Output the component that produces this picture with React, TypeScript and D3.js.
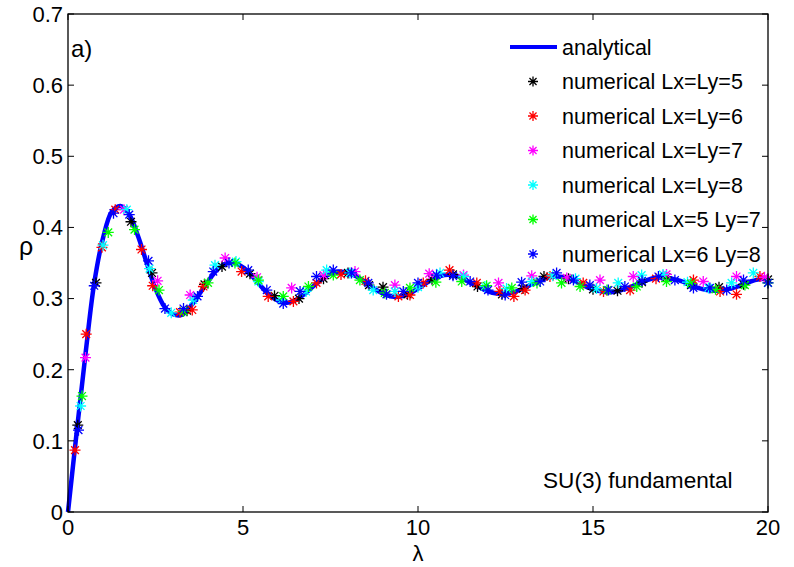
import * as d3 from "d3";

// analytical curve
const lambdaA = [0, 0.25, 0.5, 0.75, 1, 1.25, 1.5, 1.75, 2, 2.25, 2.5, 2.75, 3, 3.25, 3.5, 3.75, 4, 4.25, 4.5, 4.75,
  5, 5.25, 5.5, 5.75, 6, 6.25, 6.5, 6.75, 7, 7.25, 7.5, 7.75, 8, 8.25, 8.5, 8.75, 9, 9.25, 9.5, 9.75,
  10, 10.25, 10.5, 10.75, 11, 11.25, 11.5, 11.75, 12, 12.25, 12.5, 12.75, 13, 13.25, 13.5, 13.75, 14, 14.25, 14.5, 14.75,
  15, 15.25, 15.5, 15.75, 16, 16.25, 16.5, 16.75, 17, 17.25, 17.5, 17.75, 18, 18.25, 18.5, 18.75, 19, 19.25, 19.5, 19.75, 20];
const rhoA = [0, 0.113, 0.222, 0.322, 0.385, 0.422, 0.43, 0.418, 0.388, 0.35, 0.314, 0.289, 0.278, 0.277, 0.289, 0.306, 0.324, 0.34, 0.349, 0.35,
  0.344, 0.332, 0.318, 0.305, 0.297, 0.294, 0.298, 0.306, 0.317, 0.327, 0.335, 0.338, 0.336, 0.331, 0.322, 0.314, 0.307, 0.303, 0.303, 0.307,
  0.314, 0.322, 0.329, 0.333, 0.333, 0.329, 0.322, 0.316, 0.31, 0.307, 0.307, 0.309, 0.314, 0.32, 0.326, 0.33, 0.331, 0.329, 0.324, 0.318,
  0.313, 0.31, 0.309, 0.311, 0.315, 0.32, 0.325, 0.329, 0.33, 0.328, 0.325, 0.32, 0.315, 0.312, 0.311, 0.312, 0.315, 0.319, 0.324, 0.327, 0.328];

// numerical results [lambda, rho]
const lxly5 = [[0.28, 0.122], [0.8, 0.322], [1.8, 0.408], [2.4, 0.336], [3.4, 0.283], [3.9, 0.32], [4.4, 0.345], [5.2, 0.335],
  [5.9, 0.304], [6.6, 0.3], [7.3, 0.328], [8.0, 0.336], [8.6, 0.319], [9.0, 0.316], [9.7, 0.306], [10.4, 0.327], [11.0, 0.334],
  [11.7, 0.317], [12.4, 0.306], [13.0, 0.314], [13.6, 0.331], [14.3, 0.328], [15.0, 0.313], [15.7, 0.311], [16.4, 0.323],
  [17.1, 0.33], [17.8, 0.319], [18.6, 0.316], [19.3, 0.32], [20.0, 0.327]];
const lxly6 = [[0.2, 0.087], [0.52, 0.25], [0.97, 0.372], [1.35, 0.425], [2.1, 0.369], [2.42, 0.318], [3.2, 0.281], [3.55, 0.284],
  [3.87, 0.317], [4.96, 0.338], [5.72, 0.303], [6.44, 0.296], [7.1, 0.322], [7.8, 0.334], [8.5, 0.325], [9.44, 0.303], [9.77, 0.305],
  [10.15, 0.322], [10.9, 0.34], [11.68, 0.322], [12.34, 0.31], [12.74, 0.303], [13.06, 0.312], [13.77, 0.331], [14.72, 0.322],
  [15.3, 0.31], [16.06, 0.312], [16.8, 0.328], [17.87, 0.326], [18.63, 0.31], [19.1, 0.306], [19.77, 0.331]];
const lxly7 = [[0.5, 0.217], [1.6, 0.425], [2.56, 0.325], [3.49, 0.305], [4.49, 0.357], [5.4, 0.33], [6.39, 0.315], [7.3, 0.333],
  [8.2, 0.338], [9.34, 0.319], [10.32, 0.335], [11.3, 0.333], [12.3, 0.322], [13.25, 0.332], [14.25, 0.329], [15.2, 0.326],
  [16.15, 0.331], [17.1, 0.334], [18.15, 0.324], [19.1, 0.331], [19.9, 0.33]];
const lxly8 = [[0.36, 0.149], [1.0, 0.375], [1.68, 0.425], [2.33, 0.342], [2.95, 0.28], [3.58, 0.298], [4.2, 0.347], [4.8, 0.352],
  [5.44, 0.324], [6.1, 0.298], [6.8, 0.31], [7.39, 0.34], [8.05, 0.336], [8.72, 0.312], [9.34, 0.31], [10.0, 0.316], [10.63, 0.336],
  [11.3, 0.331], [11.91, 0.317], [12.53, 0.314], [13.25, 0.324], [13.85, 0.332], [14.5, 0.328], [15.1, 0.314], [15.72, 0.322],
  [16.39, 0.333], [17.0, 0.334], [17.7, 0.323], [18.3, 0.315], [18.96, 0.322], [19.58, 0.336]];
const lx5ly7 = [[0.4, 0.163], [1.15, 0.393], [1.9, 0.397], [2.6, 0.312], [3.3, 0.282], [4.0, 0.322], [4.77, 0.35], [5.44, 0.326],
  [6.15, 0.303], [6.87, 0.317], [7.58, 0.333], [8.34, 0.326], [9.05, 0.308], [9.77, 0.315], [10.51, 0.323], [11.25, 0.324],
  [11.96, 0.318], [12.68, 0.315], [13.4, 0.322], [14.1, 0.322], [14.63, 0.317], [15.4, 0.312], [16.25, 0.317], [17.1, 0.324],
  [17.8, 0.321], [18.5, 0.313], [19.34, 0.319], [20.0, 0.322]];
const lx6ly8 = [[0.3, 0.115], [0.75, 0.318], [1.3, 0.42], [1.75, 0.418], [2.3, 0.353], [2.77, 0.286], [3.3, 0.286], [3.7, 0.303],
  [4.15, 0.338], [4.6, 0.35], [5.15, 0.34], [5.68, 0.312], [6.15, 0.293], [6.63, 0.31], [7.1, 0.331], [7.58, 0.34], [8.1, 0.336],
  [8.58, 0.322], [9.1, 0.306], [9.58, 0.31], [10.0, 0.322], [10.53, 0.333], [11.0, 0.332], [11.49, 0.324], [12.0, 0.312],
  [12.49, 0.305], [12.96, 0.323], [13.49, 0.324], [13.96, 0.336], [14.44, 0.326], [14.91, 0.319], [15.44, 0.312], [15.91, 0.317],
  [16.4, 0.325], [16.87, 0.331], [17.34, 0.326], [17.87, 0.315], [18.34, 0.315], [18.82, 0.312], [19.3, 0.326], [20.0, 0.322]];

const seriesNames = ["numerical Lx=Ly=5", "numerical Lx=Ly=6", "numerical Lx=Ly=7", "numerical Lx=Ly=8",
  "numerical Lx=5 Ly=7", "numerical Lx=6 Ly=8"];
const seriesColors = ["#000000", "#ff0000", "#ff00ff", "#00ffff", "#00ff00", "#0000ff"];
const seriesData = [lxly5, lxly6, lxly7, lxly8, lx5ly7, lx6ly8];

const xTicks = [0, 5, 10, 15, 20];
const yTicks = [0, 0.1, 0.2, 0.3, 0.4, 0.5, 0.6, 0.7];

const font = "'Liberation Sans', Arial, Helvetica, sans-serif";

function starPath(s: number) {
  const d = s * 0.707;
  return `M${-s},0L${s},0M0,${-s}L0,${s}M${-d},${-d}L${d},${d}M${-d},${d}L${d},${-d}`;
}

export default function App() {
  const width = 794;
  const height = 567;
  const left = 68, right = 768, top = 14, bottom = 512;

  const x = d3.scaleLinear().domain([0, 20]).range([left, right]);
  const y = d3.scaleLinear().domain([0, 0.7]).range([bottom, top]);

  const line = d3.line<number>()
    .x((_, i) => x(lambdaA[i]))
    .y(d => y(d))
    .curve(d3.curveCatmullRom);

  const tick = 6;

  return (
    <svg width={width} height={height} style={{ position: "absolute", left: 0, top: 0, background: "#fff" }}
      fontFamily={font}>
      <rect x={0} y={0} width={width} height={height} fill="#fff" />
      <path d={line(rhoA) || ""} fill="none" stroke="#0000ff" strokeWidth={4.5} strokeLinejoin="round" />
      {seriesData.map((pts, si) => (
        <g key={si} stroke={seriesColors[si]} strokeWidth={1.3} fill="none">
          {pts.map((p, i) => (
            <path key={i} d={starPath(5.5)} transform={`translate(${x(p[0])},${y(p[1])})`} />
          ))}
        </g>
      ))}

      {/* axes box */}
      <rect x={left} y={top} width={right - left} height={bottom - top} fill="none" stroke="#000" strokeWidth={1.3} />
      {xTicks.map(t => (
        <g key={"x" + t}>
          <line x1={x(t)} x2={x(t)} y1={bottom} y2={bottom - tick} stroke="#000" />
          <line x1={x(t)} x2={x(t)} y1={top} y2={top + tick} stroke="#000" />
          <text x={x(t)} y={535} fontSize={22} textAnchor="middle">{t}</text>
        </g>
      ))}
      {yTicks.map(t => (
        <g key={"y" + t}>
          <line x1={left} x2={left + tick} y1={y(t)} y2={y(t)} stroke="#000" />
          <line x1={right} x2={right - tick} y1={y(t)} y2={y(t)} stroke="#000" />
          <text x={63} y={y(t) + 7.8} fontSize={22} textAnchor="end">{t === 0 ? "0" : d3.format(".1f")(t)}</text>
        </g>
      ))}

      <text x={418} y={561} fontSize={22} textAnchor="middle">λ</text>
      <text x={26} y={255} fontSize={25} textAnchor="middle">ρ</text>
      <text x={71} y={57} fontSize={24}>a)</text>
      <text x={543} y={488} fontSize={22.6}>SU(3) fundamental</text>

      {/* legend */}
      <g>
        <line x1={510} x2={557} y1={47} y2={47} stroke="#0000ff" strokeWidth={4} />
        <text x={562} y={54.5} fontSize={21.5}>analytical</text>
        {seriesNames.map((name, i) => {
          const cy = 47 + (i + 1) * 34.5;
          return (
            <g key={name}>
              <path d={starPath(5)} transform={`translate(533,${cy})`} stroke={seriesColors[i]} strokeWidth={1.3} fill="none" />
              <text x={562} y={cy + 7.6} fontSize={21.5}>{name}</text>
            </g>
          );
        })}
      </g>
    </svg>
  );
}
